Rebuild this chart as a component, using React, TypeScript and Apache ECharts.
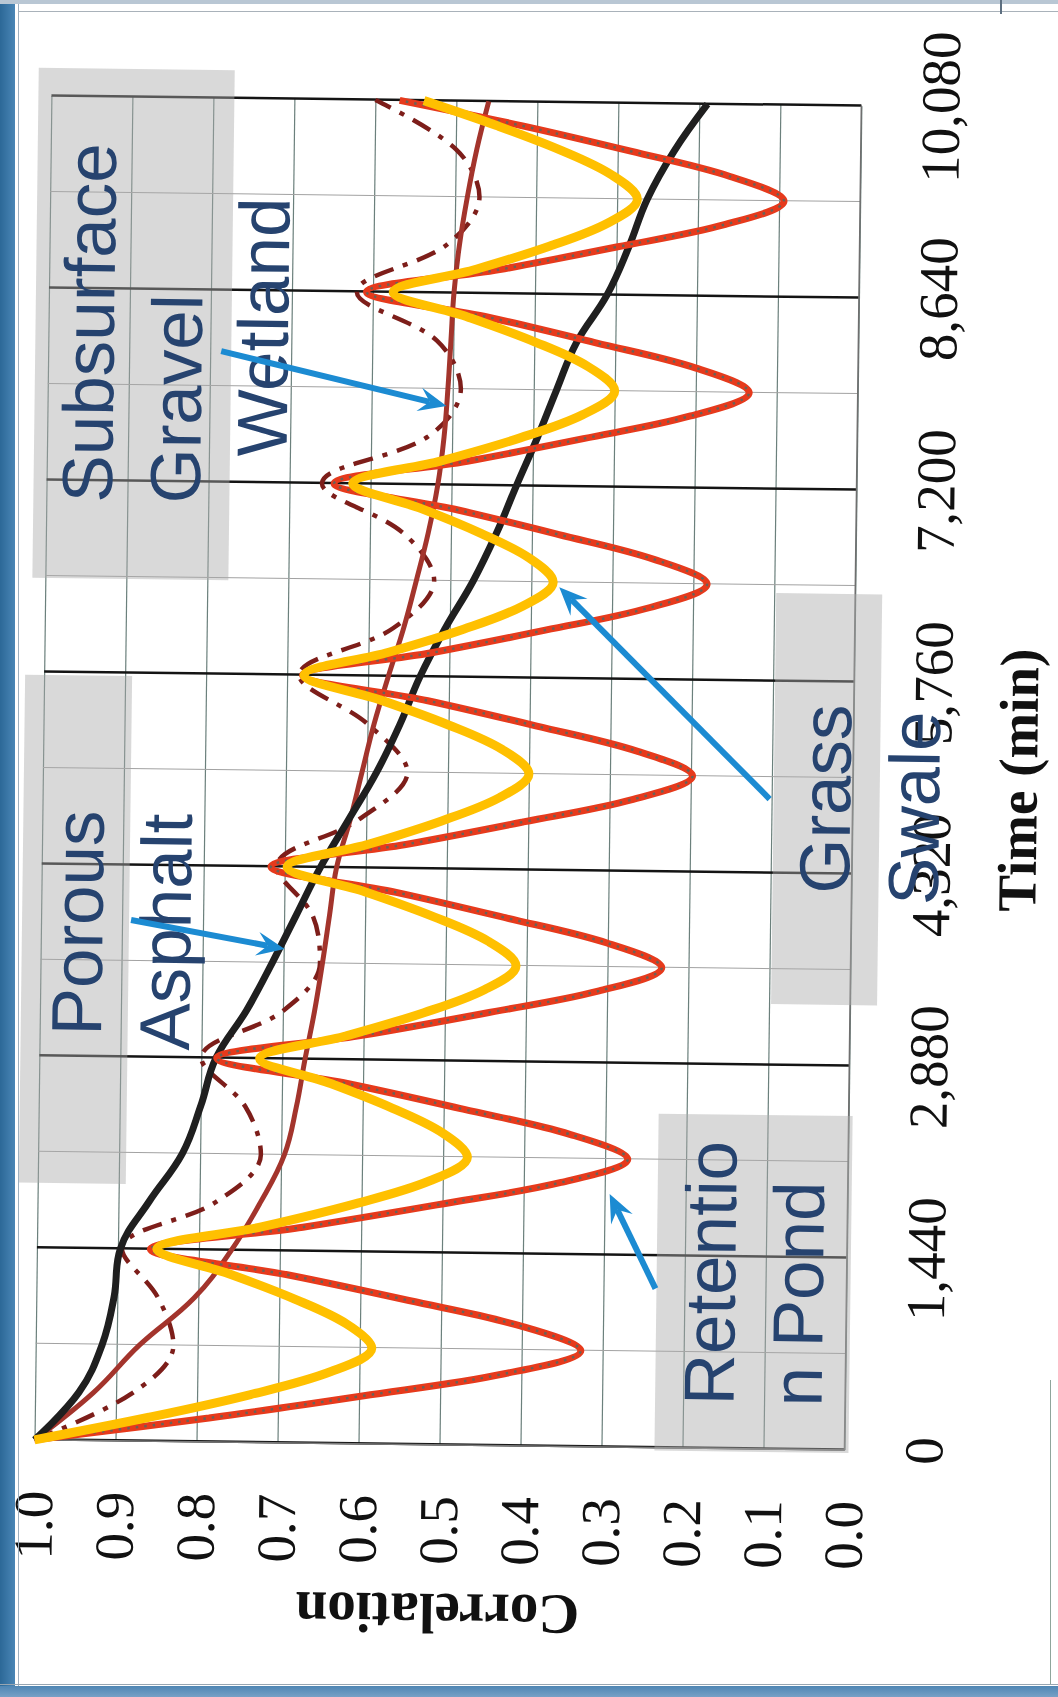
import React, { useEffect, useRef } from "react";
import * as echarts from "echarts";

// Sample times (min) for the daily-cycle series, every 180 min
const timeFine = [
  0, 180, 360, 540, 720, 900, 1080, 1260, 1440, 1620, 1800, 1980, 2160, 2340, 2520, 2700,
  2880, 3060, 3240, 3420, 3600, 3780, 3960, 4140, 4320, 4500, 4680, 4860, 5040, 5220, 5400,
  5580, 5760, 5940, 6120, 6300, 6480, 6660, 6840, 7020, 7200, 7380, 7560, 7740, 7920, 8100,
  8280, 8460, 8640, 8820, 9000, 9180, 9360, 9540, 9720, 9900, 10080,
];

// Retention Pond correlation
const retentionPond = [
  1.0, 0.785, 0.596, 0.421, 0.327, 0.402, 0.54, 0.689, 0.86, 0.672, 0.507, 0.354, 0.272,
  0.343, 0.476, 0.618, 0.781, 0.606, 0.452, 0.31, 0.233, 0.301, 0.427, 0.562, 0.717, 0.551,
  0.406, 0.271, 0.198, 0.266, 0.391, 0.526, 0.681, 0.522, 0.382, 0.253, 0.183, 0.248, 0.368,
  0.497, 0.645, 0.481, 0.338, 0.206, 0.134, 0.2, 0.324, 0.456, 0.608, 0.444, 0.3, 0.166,
  0.094, 0.161, 0.284, 0.418, 0.57,
];

// Grass Swale correlation
const grassSwale = [
  1.0, 0.859, 0.734, 0.635, 0.585, 0.617, 0.681, 0.761, 0.852, 0.722, 0.608, 0.516, 0.47,
  0.501, 0.563, 0.64, 0.728, 0.621, 0.526, 0.451, 0.413, 0.447, 0.515, 0.6, 0.697, 0.596,
  0.507, 0.436, 0.4, 0.433, 0.5, 0.584, 0.679, 0.575, 0.483, 0.41, 0.373, 0.403, 0.463,
  0.537, 0.622, 0.513, 0.416, 0.339, 0.3, 0.333, 0.399, 0.482, 0.575, 0.473, 0.383, 0.311,
  0.275, 0.307, 0.37, 0.45, 0.54,
];

// Sample times (min) for the slower series, every 360 min
const timeCoarse = [
  0, 360, 720, 1080, 1440, 1800, 2160, 2520, 2880, 3240, 3600, 3960, 4320, 4680, 5040, 5400,
  5760, 6120, 6480, 6840, 7200, 7560, 7920, 8280, 8640, 9000, 9360, 9720, 10080,
];

// Porous Asphalt correlation
const porousAsphalt = [
  1.0, 0.946, 0.918, 0.904, 0.897, 0.862, 0.822, 0.8, 0.782, 0.745, 0.714, 0.685, 0.656,
  0.622, 0.588, 0.56, 0.536, 0.506, 0.472, 0.444, 0.42, 0.395, 0.372, 0.348, 0.311, 0.285,
  0.263, 0.231, 0.19,
];

// Subsurface Gravel Wetland correlation (smoothed trend)
const gravelWetland = [
  1.0, 0.928, 0.872, 0.805, 0.76, 0.725, 0.696, 0.682, 0.672, 0.661, 0.652, 0.644, 0.636,
  0.62, 0.606, 0.592, 0.575, 0.557, 0.542, 0.528, 0.517, 0.51, 0.506, 0.503, 0.5, 0.494,
  0.485, 0.474, 0.46,
];

// Subsurface Gravel Wetland correlation (daily fluctuation)
const gravelWetlandDaily = [
  1.0, 0.88, 0.83, 0.85, 0.895, 0.78, 0.725, 0.745, 0.8, 0.7, 0.655, 0.665, 0.71, 0.61,
  0.55, 0.6, 0.685, 0.57, 0.52, 0.56, 0.66, 0.53, 0.49, 0.52, 0.62, 0.51, 0.47, 0.5, 0.6,
];

const pairs = (t: number[], v: number[]) => t.map((x, i) => [x, v[i]]);

const SERIF = '"Liberation Serif", "Times New Roman", serif';
const SANS = '"Liberation Sans", Arial, sans-serif';
const NAVY = "#26436f";
const ARROW = "#1c8bd2";
const BOX = "rgba(170,170,170,0.45)";

function arrow(x1: number, y1: number, x2: number, y2: number) {
  const dx = x2 - x1;
  const dy = y2 - y1;
  const len = Math.hypot(dx, dy);
  const ux = dx / len;
  const uy = dy / len;
  const headLen = 28;
  const half = 12;
  const bx = x2 - ux * headLen;
  const by = y2 - uy * headLen;
  const nx = x2 - ux * headLen * 0.62;
  const ny = y2 - uy * headLen * 0.62;
  return [
    {
      type: "line",
      z: 50,
      shape: { x1, y1, x2: nx, y2: ny },
      style: { stroke: ARROW, lineWidth: 6 },
    },
    {
      type: "polygon",
      z: 50,
      shape: {
        points: [
          [x2, y2],
          [bx - uy * half, by + ux * half],
          [nx, ny],
          [bx + uy * half, by - ux * half],
        ],
      },
      style: { fill: ARROW },
    },
  ];
}

function label(text: string, x: number, y: number) {
  return {
    type: "text",
    z: 40,
    style: {
      text,
      x,
      y,
      fill: NAVY,
      fontSize: 71,
      fontFamily: SANS,
      align: "left",
      verticalAlign: "middle",
      textAlign: "left",
      textVerticalAlign: "middle",
    },
  };
}

function box(x: number, y: number, width: number, height: number) {
  return {
    type: "rect",
    z: 30,
    shape: { x, y, width, height },
    style: { fill: BOX },
  };
}

export default function App() {
  const ref = useRef<HTMLDivElement>(null);

  useEffect(() => {
    if (!ref.current) return;
    const chart = echarts.init(ref.current, null, { renderer: "svg" });
    chart.setOption({
      animation: false,
      backgroundColor: "transparent",
      textStyle: { fontFamily: SERIF },
      grid: { left: 251, right: 102, top: 42, bottom: 206 },
      xAxis: {
        type: "value",
        min: 0,
        max: 10080,
        interval: 1440,
        name: "Time (min)",
        nameLocation: "middle",
        nameGap: 138,
        nameTextStyle: { fontFamily: SERIF, fontWeight: "bold", fontSize: 55, color: "#111" },
        axisLine: { show: true, lineStyle: { color: "#6f6f6f", width: 1.5 } },
        axisTick: { show: false },
        axisLabel: {
          margin: 52,
          fontFamily: SERIF,
          fontSize: 55,
          color: "#111",
          formatter: (v: number) => v.toLocaleString("en-US"),
        },
        splitLine: { show: true, lineStyle: { color: "#141414", width: 2.5 } },
        minorTick: { show: false, splitNumber: 2 },
        minorSplitLine: { show: true, lineStyle: { color: "#a2a2a2", width: 1 } },
      },
      yAxis: {
        type: "value",
        min: 0,
        max: 1,
        interval: 0.1,
        name: "Correlation",
        nameLocation: "middle",
        nameRotate: 90,
        nameGap: 140,
        nameTextStyle: { fontFamily: SERIF, fontWeight: "bold", fontSize: 57, color: "#111" },
        axisLine: { show: true, lineStyle: { color: "#7a7a7a", width: 1.5 } },
        axisTick: { show: false },
        axisLabel: {
          margin: 51,
          fontFamily: SERIF,
          fontSize: 55,
          color: "#111",
          formatter: (v: number) => v.toFixed(1),
        },
        splitLine: { show: true, lineStyle: { color: "#6b807c", width: 1.2 } },
      },
      series: [
        {
          name: "Subsurface Gravel Wetland (daily)",
          type: "line",
          data: pairs(timeCoarse, gravelWetlandDaily),
          showSymbol: false,
          smooth: 0.35,
          lineStyle: { color: "#7d1e1a", width: 4.5, type: [20, 10, 5, 10] },
          z: 2,
        },
        {
          name: "Subsurface Gravel Wetland",
          type: "line",
          data: pairs(timeCoarse, gravelWetland),
          showSymbol: false,
          smooth: 0.4,
          lineStyle: { color: "#a3342c", width: 5 },
          z: 3,
        },
        {
          name: "Porous Asphalt",
          type: "line",
          data: pairs(timeCoarse, porousAsphalt),
          showSymbol: false,
          smooth: 0.4,
          lineStyle: { color: "#1f1f1f", width: 7 },
          z: 4,
        },
        {
          name: "Retention Pond",
          type: "line",
          data: pairs(timeFine, retentionPond),
          showSymbol: false,
          smooth: 0.35,
          lineStyle: { color: "#e63a1c", width: 7 },
          z: 5,
        },
        {
          name: "Retention Pond points",
          type: "line",
          data: pairs(timeFine, retentionPond),
          showSymbol: false,
          smooth: 0.35,
          lineStyle: { color: "rgba(62,112,108,0.75)", width: 2.4, type: [2.5, 6] },
          z: 6,
        },
        {
          name: "Grass Swale",
          type: "line",
          data: pairs(timeFine, grassSwale),
          showSymbol: false,
          smooth: 0.35,
          lineStyle: { color: "#ffc000", width: 9 },
          z: 7,
        },
      ],
      graphic: {
        elements: [
          box(1113, 29, 510, 196),
          box(508, 23, 508, 107),
          box(696, 773, 411, 106),
          box(248, 662, 337, 194),
          label("Subsurface", 1189, 83),
          label("Gravel", 1189, 171),
          label("Wetland", 1237, 257),
          label("Porous", 656, 79),
          label("Asphalt", 642, 167),
          label("Grass", 807, 825),
          label("Swale", 797, 914),
          label("Retentio", 294, 716),
          label("n Pond", 294, 804),
          ...arrow(1342, 215, 1290, 441),
          ...arrow(772, 132, 745, 286),
          ...arrow(901, 769, 1110, 556),
          ...arrow(410, 661, 504, 614),
        ],
      },
    });
    return () => chart.dispose();
  }, []);

  return (
    <div
      style={{
        position: "fixed",
        left: 0,
        top: 0,
        width: 1058,
        height: 1697,
        overflow: "hidden",
        background: "#ffffff",
      }}
    >
      <div
        ref={ref}
        style={{
          position: "absolute",
          left: 0,
          top: 0,
          width: 1697,
          height: 1058,
          transformOrigin: "0 0",
          transform:
            "translate(529px, 848px) rotate(0.72deg) translate(-529px, -848px) translate(0px, 1697px) rotate(-90deg)",
        }}
      />
      {/* page edges */}
      <div style={{ position: "absolute", left: 0, top: 0, width: 15, height: 1697, background: "linear-gradient(to right, #2c6897, #4a86b6)" }} />
      <div style={{ position: "absolute", left: 18, top: 0, width: 1, height: 1690, background: "#9fb0bf" }} />
      <div style={{ position: "absolute", left: 0, top: 0, width: 1058, height: 4, background: "#b9c7d4" }} />
      <div style={{ position: "absolute", left: 18, top: 11, width: 1040, height: 1, background: "#a9b2ba" }} />
      <div style={{ position: "absolute", left: 1000, top: 0, width: 2, height: 14, background: "#5d6f80" }} />
      <div style={{ position: "absolute", left: 1050, top: 1380, width: 1, height: 305, background: "#8fa59c" }} />
      <div style={{ position: "absolute", left: 0, top: 1684, width: 1058, height: 1, background: "#98a6b2" }} />
      <div style={{ position: "absolute", left: 0, top: 1686, width: 1058, height: 11, background: "linear-gradient(to bottom, #4f86b4, #76a0c6)" }} />
    </div>
  );
}
